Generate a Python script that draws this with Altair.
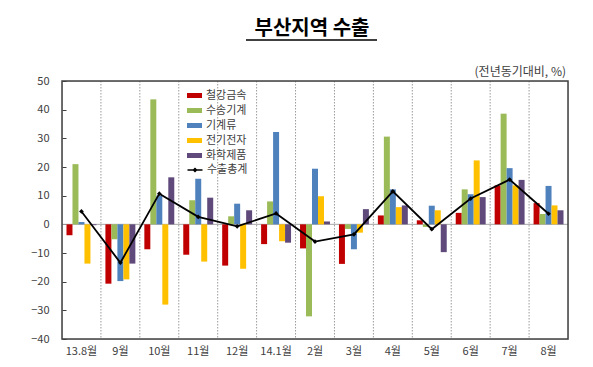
import altair as alt
import pandas as pd

months = ["13.8월", "9월", "10월", "11월", "12월", "14.1월", "2월", "3월", "4월", "5월", "6월", "7월", "8월"]
series = ["철강금속", "수송기계", "기계류", "전기전자", "화학제품"]
colors = ["#C00000", "#9BBB59", "#4F81BD", "#FFC000", "#604A7B"]

steel = [-3.8, -20.7, -8.7, -10.6, -14.4, -6.9, -8.4, -13.8, 3.1, 1.4, 4.0, 13.6, 7.4]
transport = [21.0, -5.2, 43.6, 8.4, 2.8, 8.0, -32.1, -1.6, 30.6, -0.9, 12.2, 38.6, 3.6]
machinery = [0.8, -19.8, 10.0, 15.9, 7.2, 32.2, 19.4, -8.7, 12.2, 6.5, 10.5, 19.6, 13.4]
electronics = [-13.7, -19.2, -28.0, -13.0, -15.5, -5.9, 9.8, -2.9, 6.0, 4.9, 22.3, 13.6, 6.6]
chemical = [-0.3, -13.7, 16.4, 9.3, 4.9, -6.4, 1.0, 5.3, 6.6, -9.7, 9.5, 15.5, 4.9]
total_name = "수출총계"
total = [4.5, -13.4, 10.7, 2.6, -0.7, 3.8, -6.0, -3.5, 11.5, -1.7, 9.0, 15.6, 3.7]

title_text = ["부산지역 수출"]
unit_text = ["(전년동기대비, %)"]

FONT = "Noto Sans CJK KR"
W, H = 506, 258

rows = []
for name, vals in zip(series, [steel, transport, machinery, electronics, chemical]):
    for m, v in zip(months, vals):
        rows.append({"month": m, "series": name, "value": v})
bars_df = pd.DataFrame(rows)
total_df = pd.DataFrame({"month": months, "value": total, "name": total_name})
grid_df = pd.DataFrame({"month": months[1:]})

x_scale = alt.Scale(domain=months, paddingInner=0, paddingOuter=0)
y_scale = alt.Scale(domain=[-40, 50], nice=False, zero=False)

x_axis = alt.Axis(title=None, ticks=False, domain=False, grid=False, labelAngle=0,
                  labelPadding=6, labelFontSize=11, labelColor="#404040", labelFont=FONT)
y_axis = alt.Axis(title=None, values=list(range(-40, 60, 10)), offset=-4, tickSize=4,
                  domain=False, grid=False, labelPadding=13, labelFontSize=11,
                  labelOverlap=False, labelColor="#404040", tickColor="#404040", labelFont=FONT)

grid = alt.Chart(grid_df).mark_rule(color="#9a9a9a", strokeDash=[1.5, 1.5], strokeWidth=1).encode(
    x=alt.X("month:N", scale=x_scale, sort=months, bandPosition=0, axis=x_axis)
)

frame = alt.Chart(pd.DataFrame({"f": [0]})).mark_rect(fill=None, stroke="#404040", strokeWidth=1.5).encode(
    x=alt.value(0), x2=alt.value(W), y=alt.value(0), y2=alt.value(H)
)

bars = alt.Chart(bars_df).mark_bar().encode(
    x=alt.X("month:N", scale=x_scale, sort=months, axis=x_axis),
    xOffset=alt.XOffset("series:N", sort=series,
                        scale=alt.Scale(domain=series, paddingInner=0, paddingOuter=0.75)),
    y=alt.Y("value:Q", scale=y_scale, axis=y_axis),
    color=alt.Color("series:N", sort=series, scale=alt.Scale(domain=series, range=colors),
                    legend=alt.Legend(title=None, orient="none", legendX=127, legendY=9,
                                      symbolType="M-1.5,-0.5H1.5V0.5H-1.5Z", symbolSize=100,
                                      symbolStrokeWidth=0, labelFontSize=11, labelFont=FONT,
                                      labelColor="#404040", labelOffset=6, rowPadding=3,
                                      padding=0)),
)

zero = alt.Chart(pd.DataFrame({"z": [0]})).mark_rule(color="#a6a6a6", strokeWidth=1).encode(
    y=alt.Y("z:Q", scale=y_scale, axis=y_axis)
)

line = alt.Chart(total_df).mark_line(strokeWidth=1.8).encode(
    x=alt.X("month:N", scale=x_scale, sort=months, axis=x_axis),
    y=alt.Y("value:Q", scale=y_scale, axis=y_axis),
    stroke=alt.Stroke("name:N", scale=alt.Scale(domain=[total_name], range=["black"]),
                      legend=alt.Legend(title=None, orient="none", legendX=127, legendY=83,
                                        symbolType="M-1.5,0H1.5M-0.3,0L0,-0.3L0.3,0L0,0.3Z",
                                        symbolSize=100, symbolStrokeWidth=1.5,
                                        symbolFillColor="black", labelFontSize=11,
                                        labelFont=FONT, labelColor="#404040", labelOffset=6,
                                        padding=0)),
)

pts = alt.Chart(total_df).mark_point(shape="diamond", filled=True, size=22, color="black", opacity=1).encode(
    x=alt.X("month:N", scale=x_scale, sort=months, axis=x_axis),
    y=alt.Y("value:Q", scale=y_scale, axis=y_axis),
)

title = alt.Chart(pd.DataFrame({"t": title_text})).mark_text(
    font=FONT, fontSize=20, fontWeight="bold", color="black", baseline="middle", align="center"
).encode(text="t:N", x=alt.value(250), y=alt.value(-52))

underline = alt.Chart(pd.DataFrame({"t": title_text})).mark_rule(color="black", strokeWidth=1.5).encode(
    x=alt.value(184), x2=alt.value(315), y=alt.value(-41)
)

unit = alt.Chart(pd.DataFrame({"t": unit_text})).mark_text(
    font=FONT, fontSize=12, color="#404040", baseline="middle", align="right"
).encode(text="t:N", x=alt.value(504), y=alt.value(-9))

chart = alt.layer(grid, zero, bars, line, pts, frame, title, underline, unit).resolve_scale(
    color="independent", stroke="independent"
).properties(
    width=W, height=H,
    autosize=alt.AutoSizeParams(type="none"),
    padding={"left": 54, "top": 73, "right": 17, "bottom": 20},
).configure_view(stroke=None).configure(background="white")

chart.save("out.html", embed_options={"renderer": "svg", "actions": False})
